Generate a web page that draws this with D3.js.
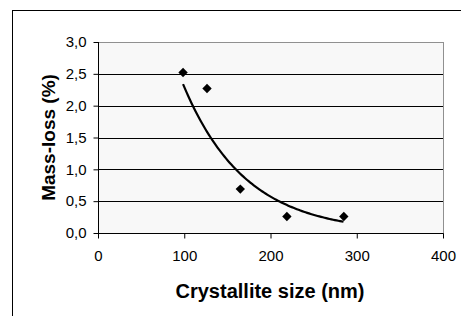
<!DOCTYPE html>
<html>
<head>
<meta charset="utf-8">
<script src="https://cdn.jsdelivr.net/npm/d3@7"></script>
<style>
  html, body { margin: 0; padding: 0; background: #fff; }
  svg { display: block; font-family: "Liberation Sans", Arial, sans-serif; }
</style>
</head>
<body>
<svg id="chart" width="461" height="316"></svg>
<script>
  // measured points: crystallite size (nm) vs mass-loss (%)
  var sizes = [98.6, 126.4, 165, 219, 285];
  var massLoss = [2.52, 2.27, 0.69, 0.26, 0.26];
  var xTicks = [0, 100, 200, 300, 400];
  var yTicks = [0, 0.5, 1.0, 1.5, 2.0, 2.5, 3.0];

  var plot = { left: 98, right: 443, top: 42, bottom: 233 };

  var svg = d3.select("#chart");
  var fmt = function (v) { return d3.format(".1f")(v).replace(".", ","); };

  var x = d3.scaleLinear().domain([0, 400]).range([plot.left, plot.right]);
  var y = d3.scaleLinear().domain([0, 3]).range([plot.bottom, plot.top]);

  // chart frame (cropped on right/bottom)
  svg.append("rect").attr("x", 12.5).attr("y", 10.5).attr("width", 500).attr("height", 400)
    .attr("fill", "#fff").attr("stroke", "#000").attr("stroke-width", 1);

  // plot area
  svg.append("rect").attr("x", plot.left + 0.5).attr("y", plot.top + 0.5)
    .attr("width", plot.right - plot.left).attr("height", plot.bottom - plot.top)
    .attr("fill", "#f8f8f8").attr("stroke", "#909090").attr("stroke-width", 1);

  // gridlines
  svg.append("g").selectAll("line").data(yTicks.filter(function (d) { return d > 0 && d < 3; })).join("line")
    .attr("x1", plot.left).attr("x2", plot.right)
    .attr("y1", function (d) { return Math.round(y(d)) + 0.5; })
    .attr("y2", function (d) { return Math.round(y(d)) + 0.5; })
    .attr("stroke", "#000").attr("stroke-width", 1);

  // axes
  var yAxis = svg.append("g").attr("transform", "translate(" + (plot.left + 0.5) + ",0)")
    .call(d3.axisLeft(y).tickValues(yTicks).tickFormat(fmt).tickSize(5).tickPadding(7));
  var xAxis = svg.append("g").attr("transform", "translate(0," + (plot.bottom + 0.5) + ")")
    .call(d3.axisBottom(x).tickValues(xTicks).tickSize(5).tickPadding(12));
  [xAxis, yAxis].forEach(function (a) {
    a.select(".domain").attr("stroke", "#000").attr("d", function () {
      return a === xAxis ? "M" + plot.left + ",0H" + (plot.right + 0.5) : "M0," + plot.top + "V" + (plot.bottom + 0.5);
    });
    a.selectAll(".tick line").attr("stroke", "#000");
    a.selectAll(".tick text").attr("font-size", 15).attr("font-family", "Liberation Sans, Arial, sans-serif").attr("fill", "#000");
  });

  // exponential trend line (least squares on ln y), as the spreadsheet does
  var lx = d3.mean(sizes), ly = d3.mean(massLoss, function (v) { return Math.log(v); });
  var sxy = d3.sum(sizes, function (v, i) { return (v - lx) * (Math.log(massLoss[i]) - ly); });
  var sxx = d3.sum(sizes, function (v) { return (v - lx) * (v - lx); });
  var b = sxy / sxx, a = Math.exp(ly - b * lx);
  var xs = d3.range(d3.min(sizes), d3.max(sizes) + 0.1, 2);
  svg.append("path").datum(xs)
    .attr("fill", "none").attr("stroke", "#000").attr("stroke-width", 2.2)
    .attr("d", d3.line().x(function (d) { return x(d); }).y(function (d) { return y(a * Math.exp(b * d)); }));

  // diamond markers
  var diamond = d3.symbol().type(d3.symbolSquare).size(44);
  svg.append("g").selectAll("path").data(sizes).join("path")
    .attr("d", diamond)
    .attr("transform", function (d, i) { return "translate(" + x(d) + "," + y(massLoss[i]) + ") rotate(45)"; })
    .attr("fill", "#000");

  // axis titles
  svg.append("text").attr("x", 270).attr("y", 298)
    .attr("text-anchor", "middle").attr("font-size", 20).attr("font-weight", "bold")
    .text("Crystallite size (nm)");
  svg.append("text").attr("transform", "translate(55," + ((plot.top + plot.bottom) / 2) + ") rotate(-90)")
    .attr("text-anchor", "middle").attr("font-size", 19).attr("font-weight", "bold")
    .text("Mass-loss (%)");
</script>
</body>
</html>
